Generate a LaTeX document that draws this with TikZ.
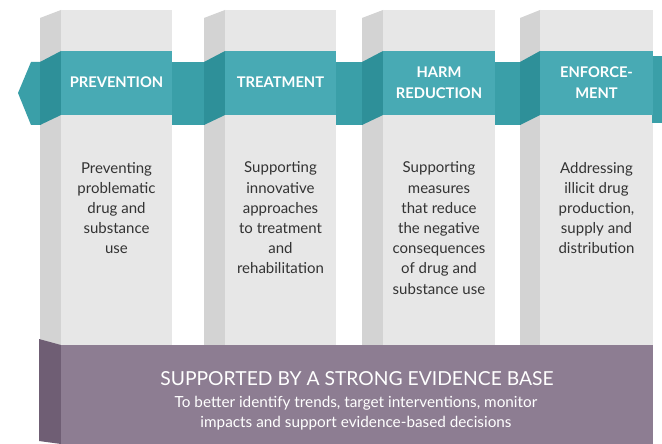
\documentclass[tikz,border=0pt]{standalone}
\usepackage{fontspec}
\setmainfont{Lato}
\definecolor{greyfront}{HTML}{E7E7E7}
\definecolor{greyside}{HTML}{D3D3D3}
\definecolor{tealfront}{HTML}{48AAB4}
\definecolor{tealside}{HTML}{2E9099}
\definecolor{tealmid}{HTML}{3A9FA8}
\definecolor{purplefront}{HTML}{8D7D92}
\definecolor{purpleside}{HTML}{6F5E74}
\definecolor{bodytext}{HTML}{333333}
\tikzset{
  head/.style={text=white, align=center, font=\fontsize{14.7}{21}\selectfont\bfseries, inner sep=0pt},
  body/.style={text=bodytext, align=center, font=\fontsize{15}{20.2}\selectfont, inner sep=0pt},
  basetitle/.style={text=white, font=\fontsize{19.3}{24}\selectfont, inner sep=0pt},
  basesub/.style={text=white, align=center, font=\fontsize{15.3}{19.5}\selectfont, inner sep=0pt}
}
\begin{document}
\begin{tikzpicture}[x=1pt,y=-1pt]
\useasboundingbox (0,0) rectangle (662,444);
\fill[white] (0,0) rectangle (662,444);
% pillars
\foreach \a/\b/\c in {40/61/172, 204/225/336, 362/383/495, 520/540/653}{
  \fill[greyside] (\a,18) -- (\b,10) -- (\b,345) -- (\a,345) -- cycle;
  \fill[greyfront] (\b,10) rectangle (\c,345);
}
% left arrow end
\fill[tealmid] (41,62) -- (31,62) -- (18,93) -- (31,125) -- (41,125) -- cycle;
% connecting band pieces
\foreach \c/\a in {172/204, 336/362, 495/520}{
  \fill[tealmid] (\c,62) rectangle (\a+1,125);
}
\fill[tealmid] (652,56) rectangle (662,123);
% side and front band pieces
\foreach \a/\b/\c in {40/61/172, 204/225/336, 362/383/495, 520/540/653}{
  \fill[tealside] (\a,62) -- (\b,51) -- (\b,115) -- (\a,125) -- cycle;
  \fill[tealfront] (\b,51) rectangle (\c,115);
}
% base
\fill[purpleside] (39,339) -- (61,345) -- (61,444) -- (39,441) -- cycle;
\fill[purplefront] (61,345) rectangle (653,444);
% headings
\node[head] (h1) at (116.5,82) {PREVENTION};
\node[head] (h2) at (280.5,82) {TREATMENT};
\node[head] (h3) at (439,83) {HARM\\REDUCTION};
\node[head] (h4) at (596.5,83) {ENFORCE-\\MENT};
% bodies
\node[body] (b1) at (116.5,208) {Preventing\\problematic\\drug and\\substance\\use};
\node[body] (b2) at (280.5,218) {Supporting\\innovative\\approaches\\to treatment\\and\\rehabilitation};
\node[body] (b3) at (439,228) {Supporting\\measures\\that reduce\\the negative\\consequences\\of drug and\\substance use};
\node[body] (b4) at (596.5,208) {Addressing\\illicit drug\\production,\\supply and\\distribution};
% base text
\node[basetitle] (t) at (357,379) {SUPPORTED BY A STRONG EVIDENCE BASE};
\node[basesub] (s) at (356,413) {To better identify trends, target interventions, monitor\\impacts and support evidence-based decisions};
\end{tikzpicture}
\end{document}
